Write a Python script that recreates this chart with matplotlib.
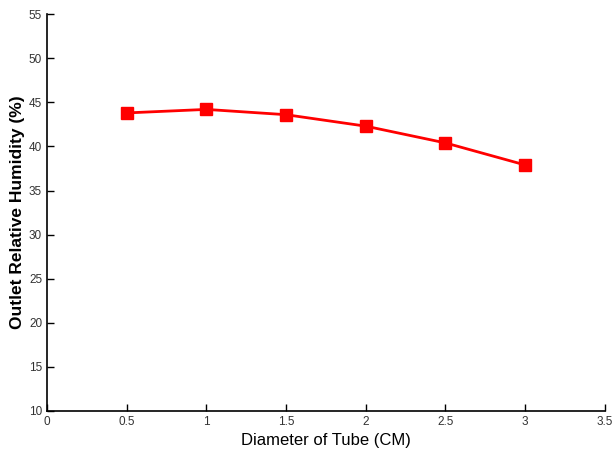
import matplotlib
matplotlib.use("Agg")
import matplotlib.pyplot as plt

plt.rcParams['font.family'] = ['Liberation Sans', 'DejaVu Sans']

diameter = [0.5, 1.0, 1.5, 2.0, 2.5, 3.0]
humidity = [43.8, 44.2, 43.6, 42.3, 40.4, 37.9]

fig = plt.figure(figsize=(6.14, 4.57), dpi=100)
ax = fig.add_axes([0.0765, 0.1007, 0.9085, 0.8683])

ax.plot(diameter, humidity, color='red', lw=2, marker='s', ms=8, mec='red', mfc='red')

ax.set_xlim(0, 3.5)
ax.set_ylim(10, 55)
ax.set_xticks([0, 0.5, 1, 1.5, 2, 2.5, 3, 3.5])
ax.set_xticklabels(['0', '0.5', '1', '1.5', '2', '2.5', '3', '3.5'])
ax.set_yticks(range(10, 56, 5))
ax.tick_params(direction='in', labelsize=8.5, length=5, width=1, colors='black', labelcolor='#333333')
ax.spines['top'].set_visible(False)
ax.spines['right'].set_visible(False)
for s in ['left', 'bottom']:
    ax.spines[s].set_linewidth(1.2)

ax.set_xlabel('Diameter of Tube (CM)', fontsize=12, labelpad=4)
ax.set_ylabel('Outlet Relative Humidity (%)', fontsize=12.5, fontweight='bold', labelpad=3)

fig.savefig('out.png', dpi=100)
